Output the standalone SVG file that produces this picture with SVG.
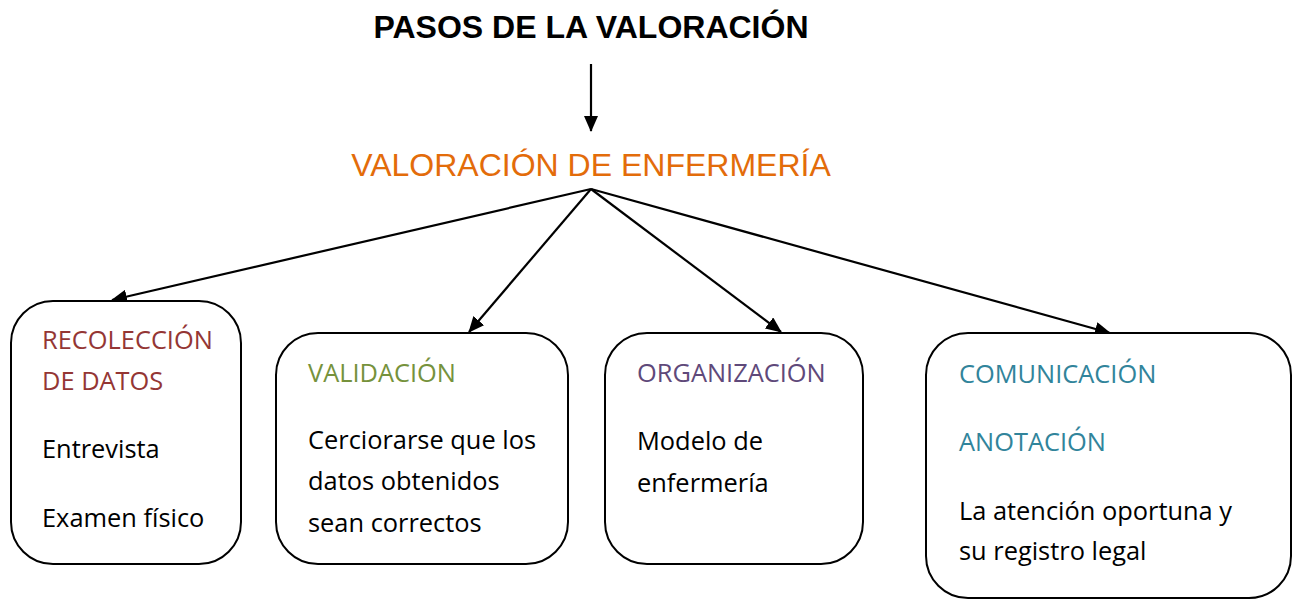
<svg xmlns="http://www.w3.org/2000/svg" width="1297" height="600" viewBox="0 0 1297 600">
<style>
.box{fill:#fff;stroke:#000;stroke-width:2}
.t{font-family:"Open Sans","Liberation Sans",sans-serif;font-size:25.4px;fill:#000}
.conn{stroke:#000;stroke-width:2.2;fill:none;marker-end:url(#ah)}
</style>
<defs>
<marker id="ah" markerUnits="userSpaceOnUse" markerWidth="16" markerHeight="14" refX="15" refY="7" orient="auto">
<path d="M0,0 L16,7 L0,14 Z" fill="#000"/>
</marker>
</defs>
<rect width="1297" height="600" fill="#fff"/>
<g id="title">
<text x="591" y="38" text-anchor="middle" font-family="Liberation Sans, Arial, sans-serif" font-weight="bold" font-size="32" fill="#000">PASOS DE LA VALORACIÓN</text>
</g>
<g id="root">
<text x="591" y="176" text-anchor="middle" font-family="Liberation Sans, Arial, sans-serif" font-size="32" fill="#E36C0A">VALORACIÓN DE ENFERMERÍA</text>
</g>
<g id="connectors">
<line class="conn" x1="591" y1="64" x2="591" y2="131"/>
<line class="conn" x1="591" y1="189" x2="112" y2="300"/>
<line class="conn" x1="591" y1="189" x2="469" y2="332"/>
<line class="conn" x1="591" y1="189" x2="781" y2="332"/>
<line class="conn" x1="591" y1="189" x2="1110" y2="333"/>
</g>
<g id="recoleccion">
<rect class="box" x="11" y="301" width="230" height="263" rx="42"/>
<text class="t" x="42" y="349" style="fill:#943634">RECOLECCIÓN</text>
<text class="t" x="42" y="390" style="fill:#943634">DE DATOS</text>
<text class="t" x="42" y="458">Entrevista</text>
<text class="t" x="42" y="527">Examen físico</text>
</g>
<g id="validacion">
<rect class="box" x="276" y="333" width="292" height="231" rx="42"/>
<text class="t" x="308" y="382" style="fill:#76923C">VALIDACIÓN</text>
<text class="t" x="308" y="449">Cerciorarse que los</text>
<text class="t" x="308" y="490">datos obtenidos</text>
<text class="t" x="308" y="532">sean correctos</text>
</g>
<g id="organizacion">
<rect class="box" x="605" y="333" width="258" height="231" rx="42"/>
<text class="t" x="637" y="382" style="fill:#5F497A">ORGANIZACIÓN</text>
<text class="t" x="637" y="450">Modelo de</text>
<text class="t" x="637" y="492">enfermería</text>
</g>
<g id="comunicacion">
<rect class="box" x="926" y="333" width="365" height="265" rx="42"/>
<text class="t" x="959" y="383" style="fill:#31849B">COMUNICACIÓN</text>
<text class="t" x="959" y="451" style="fill:#31849B">ANOTACIÓN</text>
<text class="t" x="959" y="520">La atención oportuna y</text>
<text class="t" x="959" y="560">su registro legal</text>
</g>
</svg>
